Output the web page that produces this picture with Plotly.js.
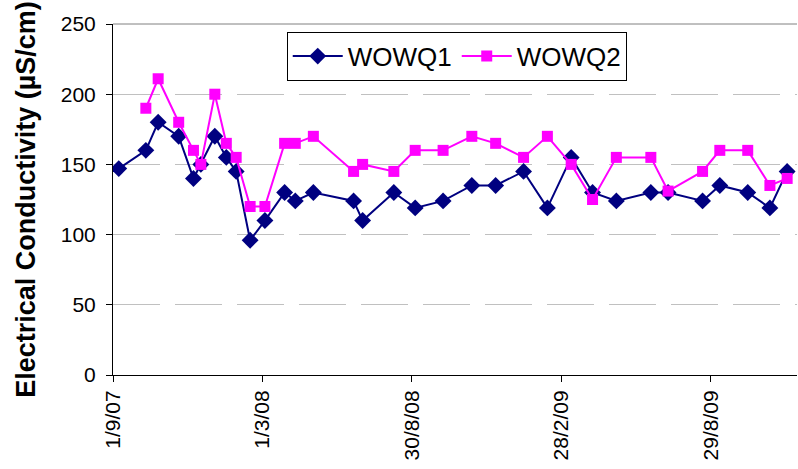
<!DOCTYPE html>
<html>
<head>
<meta charset="utf-8">
<script src="https://cdn.plot.ly/plotly-3.0.1.min.js"></script>
<style>html,body{margin:0;padding:0;background:#fff}#chart{width:798px;height:469px}</style>
</head>
<body>
<div id="chart"></div>
<script>
const dates = ["2007-09-08","2007-10-11","2007-10-26","2007-11-20","2007-12-08","2007-12-17",
  "2008-01-03","2008-01-17","2008-01-29","2008-02-15","2008-03-04","2008-03-28","2008-04-10",
  "2008-05-02","2008-06-20","2008-07-01","2008-08-08","2008-09-03","2008-10-07","2008-11-11",
  "2008-12-10","2009-01-13","2009-02-11","2009-03-12","2009-04-07","2009-05-06","2009-06-17",
  "2009-07-08","2009-08-19","2009-09-09","2009-10-13","2009-11-09","2009-11-30"];
const wowq1 = [147,160,180,170,140,150,170,155,145,96,110,130,124,130,124,110,130,119,124,135,
  135,145,119,155,130,124,130,130,124,135,130,119,145];
const wowq2 = [null,190,211,180,160,150,200,165,155,120,120,165,165,170,145,150,145,160,160,170,
  165,155,170,150,125,155,155,131,145,160,160,135,140];
const tickDates = ["2007-09-01","2008-03-01","2008-08-30","2009-02-28","2009-08-29"];
const tickLabels = ["1/9/07","1/3/08","30/8/08","28/2/09","29/8/09"];

const font = "Arial, 'Liberation Sans', sans-serif";
const traces = [
  {x: dates, y: wowq1, name: "WOWQ1", type: "scatter", mode: "lines+markers",
   line: {color: "#000080", width: 2}, marker: {symbol: "diamond", size: 13, color: "#000080"}},
  {x: dates, y: wowq2, name: "WOWQ2", type: "scatter", mode: "lines+markers",
   line: {color: "#FF00FF", width: 2}, marker: {symbol: "square", size: 11, color: "#FF00FF"}}
];
const layout = {
  width: 798, height: 469,
  margin: {l: 113, r: 1, t: 24, b: 94},
  paper_bgcolor: "#fff", plot_bgcolor: "#fff",
  font: {family: font, color: "#000", size: 21},
  showlegend: true,
  legend: {orientation: "h", x: 0.254, y: 0.978, xanchor: "left", yanchor: "top",
    bordercolor: "#000", borderwidth: 1, bgcolor: "#fff", font: {size: 26, family: font},
    itemwidth: 50, tracegroupgap: 0},
  xaxis: {type: "date", range: ["2007-09-01", "2009-12-12"], tickmode: "array",
    tickvals: tickDates, ticktext: tickLabels, tickangle: -90, ticks: "outside", ticklen: 6,
    tickcolor: "#000", showline: true, linecolor: "#000", linewidth: 1, showgrid: false,
    zeroline: false, tickfont: {size: 21, family: font}},
  yaxis: {range: [0, 250], tickvals: [0, 50, 100, 150, 200, 250], ticks: "outside", ticklen: 6,
    tickcolor: "#000", showline: true, linecolor: "#000", linewidth: 1, showgrid: true,
    gridcolor: "#c0c0c0", griddash: "47px,15px", gridwidth: 1, zeroline: false,
    ticklabelstandoff: 6, tickfont: {size: 21, family: font},
    title: {text: "Electrical Conductivity (µS/cm)", font: {size: 27, family: font, weight: "bold"}, standoff: 17}},
  shapes: [{type: "line", xref: "paper", yref: "paper", x0: 0, x1: 1, y0: 1, y1: 1,
    line: {color: "#808080", width: 1}}]
};
Plotly.newPlot("chart", traces, layout, {displayModeBar: false, staticPlot: true});
</script>
</body>
</html>
